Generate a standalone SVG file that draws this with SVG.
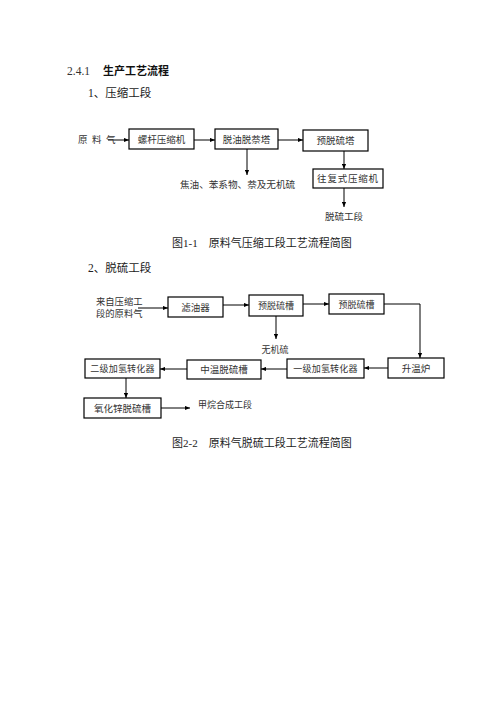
<svg xmlns="http://www.w3.org/2000/svg" width="496" height="702" viewBox="0 0 496 702">
<style>
text{font-family:"Liberation Serif","Noto Sans CJK SC",serif;fill:#333;}
.box{fill:#fff;stroke:#000;stroke-width:1.2;}
.ln{fill:none;stroke:#000;stroke-width:1;}
.bt{font-size:9.5px;text-anchor:middle;}
.sm{font-size:9px;text-anchor:middle;}
.h{font-size:11.5px;fill:#222;}
.cap{font-size:11px;fill:#222;}
</style>
<defs>
<marker id="ah" viewBox="0 0 6 6" refX="6" refY="3" markerWidth="5" markerHeight="5" markerUnits="userSpaceOnUse" orient="auto">
<path d="M0,0.5 L6,3 L0,5.5 Z" fill="#000"/>
</marker>
</defs>
<rect width="496" height="702" fill="#fff"/>
<g id="headings">
<text x="67" y="75" font-size="11.5px" fill="#111">2.4.1</text>
<text x="103" y="75" font-size="11px" font-weight="bold" style="font-family:'Noto Sans CJK SC',sans-serif;fill:#111">生产工艺流程</text>
<text class="h" x="88" y="97">1、压缩工段</text>
<text class="cap" x="172" y="247">图1-1　原料气压缩工段工艺流程简图</text>
<text class="h" x="88" y="272">2、脱硫工段</text>
<text class="cap" x="172" y="447">图2-2　原料气脱硫工段工艺流程简图</text>
</g>
<g id="connectors">
<line class="ln" x1="108" y1="140" x2="129" y2="140" marker-end="url(#ah)"/>
<line class="ln" x1="194" y1="140" x2="215" y2="140" marker-end="url(#ah)"/>
<line class="ln" x1="278" y1="140" x2="303" y2="140" marker-end="url(#ah)"/>
<line class="ln" x1="247" y1="149" x2="247" y2="175" marker-end="url(#ah)"/>
<line class="ln" x1="344" y1="151" x2="344" y2="169" marker-end="url(#ah)"/>
<line class="ln" x1="344" y1="188" x2="344" y2="207" marker-end="url(#ah)"/>
<line class="ln" x1="138" y1="308" x2="168" y2="308" marker-end="url(#ah)"/>
<line class="ln" x1="223" y1="305" x2="249" y2="305" marker-end="url(#ah)"/>
<line class="ln" x1="303" y1="304" x2="329" y2="304" marker-end="url(#ah)"/>
<polyline class="ln" points="384,304 420,304 420,358" marker-end="url(#ah)"/>
<line class="ln" x1="276" y1="316" x2="276" y2="339" marker-end="url(#ah)"/>
<line class="ln" x1="388" y1="368" x2="364" y2="368" marker-end="url(#ah)"/>
<line class="ln" x1="287" y1="369" x2="261" y2="369" marker-end="url(#ah)"/>
<line class="ln" x1="187" y1="369" x2="160" y2="369" marker-end="url(#ah)"/>
<line class="ln" x1="126" y1="378" x2="126" y2="398" marker-end="url(#ah)"/>
<line class="ln" x1="161" y1="408" x2="190" y2="408" marker-end="url(#ah)"/>
</g>
<g id="n-feed1"><text x="78 86 92 100 106" y="143" font-size="9.5px">原 料 气</text></g>
<g id="n-screw"><rect class="box" x="129" y="129" width="65" height="20"/><text class="bt" x="161.5" y="142.5">螺杆压缩机</text></g>
<g id="n-deoil"><rect class="box" x="215" y="129" width="63" height="20"/><text class="bt" x="246.5" y="142.5">脱油脱萘塔</text></g>
<g id="n-predesulf-tower"><rect class="box" x="303" y="130" width="65" height="21"/><text class="bt" x="335.5" y="144">预脱硫塔</text></g>
<g id="n-recip"><rect class="box" x="313" y="169" width="70" height="19"/><text class="bt" x="348" y="182" letter-spacing="0.8">往复式压缩机</text></g>
<g id="n-tar"><text x="180" y="188" font-size="9.6px">焦油、苯系物、萘及无机硫</text></g>
<g id="n-desulf-section"><text x="344" y="220" font-size="9.5px" text-anchor="middle">脱硫工段</text></g>
<g id="n-feed2"><text x="96" y="305" font-size="9.3px">来自压缩工</text><text x="96" y="317" font-size="9.3px">段的原料气</text></g>
<g id="n-filter"><rect class="box" x="168" y="297" width="55" height="20"/><text class="bt" x="195.5" y="310.5">滤油器</text></g>
<g id="n-pre1"><rect class="box" x="249" y="295" width="54" height="21"/><text class="sm" x="276" y="309">预脱硫槽</text></g>
<g id="n-pre2"><rect class="box" x="329" y="294" width="55" height="20"/><text class="sm" x="356.5" y="307.5">预脱硫槽</text></g>
<g id="n-inorg"><text x="275" y="353" font-size="9px" text-anchor="middle">无机硫</text></g>
<g id="n-heater"><rect class="box" x="388" y="358" width="56" height="20"/><text class="bt" x="416" y="371.5">升温炉</text></g>
<g id="n-hydro1"><rect class="box" x="287" y="359" width="77" height="19"/><text class="sm" x="325.5" y="371.5" letter-spacing="0.2">一级加氢转化器</text></g>
<g id="n-midtemp"><rect class="box" x="187" y="360" width="74" height="19"/><text class="bt" x="224" y="372.5">中温脱硫槽</text></g>
<g id="n-hydro2"><rect class="box" x="85" y="359" width="75" height="19"/><text class="sm" x="122.5" y="371.5" letter-spacing="0.2">二级加氢转化器</text></g>
<g id="n-zno"><rect class="box" x="84" y="398" width="77" height="20"/><text class="bt" x="122.5" y="411.5">氧化锌脱硫槽</text></g>
<g id="n-methane"><text x="198" y="408" font-size="9px">甲烷合成工段</text></g>
</svg>
